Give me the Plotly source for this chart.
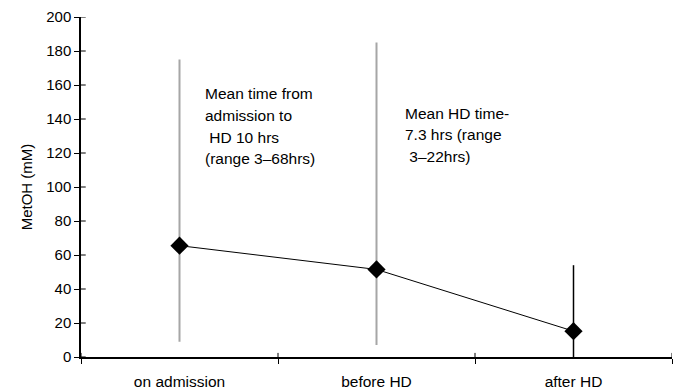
import plotly.graph_objects as go

categories = ["on admission", "before HD", "after HD"]
means = [65.5, 51.5, 15.2]
upper = [175, 185, 54]
lower = [9, 7, 0]
ytick_vals = [0, 20, 40, 60, 80, 100, 120, 140, 160, 180, 200]

note1_lines = ["Mean time from", "admission to", " HD 10 hrs", "(range 3\u201368hrs)"]
note2_lines = ["Mean HD time-", "7.3 hrs (range", " 3\u201322hrs)"]

xpos = [0.5, 1.5, 2.5]
xbounds = [0, 1, 2, 3]
err_plus = [u - m for u, m in zip(upper, means)]
err_minus = [m - l for m, l in zip(means, lower)]

fig = go.Figure()

fig.add_trace(go.Scatter(
    x=xpos[:2], y=means[:2], mode="markers",
    marker=dict(size=1, color="rgba(0,0,0,0)"),
    error_y=dict(type="data", symmetric=False, array=err_plus[:2], arrayminus=err_minus[:2],
                 color="#a6a6a6", thickness=2, width=0),
    showlegend=False, hoverinfo="skip"))
fig.add_trace(go.Scatter(
    x=xpos[2:], y=means[2:], mode="markers",
    marker=dict(size=1, color="rgba(0,0,0,0)"),
    error_y=dict(type="data", symmetric=False, array=err_plus[2:], arrayminus=err_minus[2:],
                 color="black", thickness=1.5, width=0),
    showlegend=False, hoverinfo="skip"))
fig.add_trace(go.Scatter(
    x=xpos, y=means, mode="lines+markers",
    line=dict(color="black", width=1),
    marker=dict(symbol="diamond", size=14, color="black"),
    showlegend=False))

fam = "Liberation Sans, Arial, sans-serif"
ann_font = dict(family=fam, size=15.5, color="black")
tick_font = dict(family=fam, size=15, color="black")

line_step = 12.8
for i, t in enumerate(note1_lines):
    fig.add_annotation(x=0.62, y=155 - i * line_step, xref="x", yref="y", text=t,
                       showarrow=False, align="left", xanchor="left", yanchor="middle",
                       font=ann_font)
for i, t in enumerate(note2_lines):
    fig.add_annotation(x=1.635, y=143.5 - i * line_step, xref="x", yref="y", text=t,
                       showarrow=False, align="left", xanchor="left", yanchor="middle",
                       font=ann_font)

# inner halves of the crossing tick marks
for xb in xbounds:
    fig.add_shape(type="line", xref="x", yref="y", x0=xb, x1=xb, y0=0, y1=2.4,
                  line=dict(color="black", width=1))
for yv in ytick_vals:
    fig.add_shape(type="line", xref="paper", yref="y", x0=0, x1=0.008, y0=yv, y1=yv,
                  line=dict(color="black", width=1))

fig.update_layout(
    width=673, height=384,
    margin=dict(l=73, r=9, t=9, b=35),
    paper_bgcolor="white", plot_bgcolor="white",
    font=tick_font,
    xaxis=dict(range=[0, 3], showgrid=False, zeroline=False, automargin=False,
               showline=True, linecolor="black", linewidth=2,
               tickvals=xpos, ticktext=categories, ticks="",
               tickfont=dict(family=fam, size=15.5, color="black"),
               minor=dict(tickvals=xbounds, ticks="outside", ticklen=5, tickcolor="black", tickwidth=1),
               ticklabelstandoff=9),
    yaxis=dict(range=[0, 200], showgrid=False, zeroline=False, automargin=False,
               showline=True, linecolor="black", linewidth=1.5,
               tickvals=ytick_vals, ticks="outside", ticklen=5, tickcolor="black",
               tickfont=tick_font,
               title=dict(text="MetOH (mM)", standoff=10, font=tick_font)),
)

fig.write_html("out.html")
